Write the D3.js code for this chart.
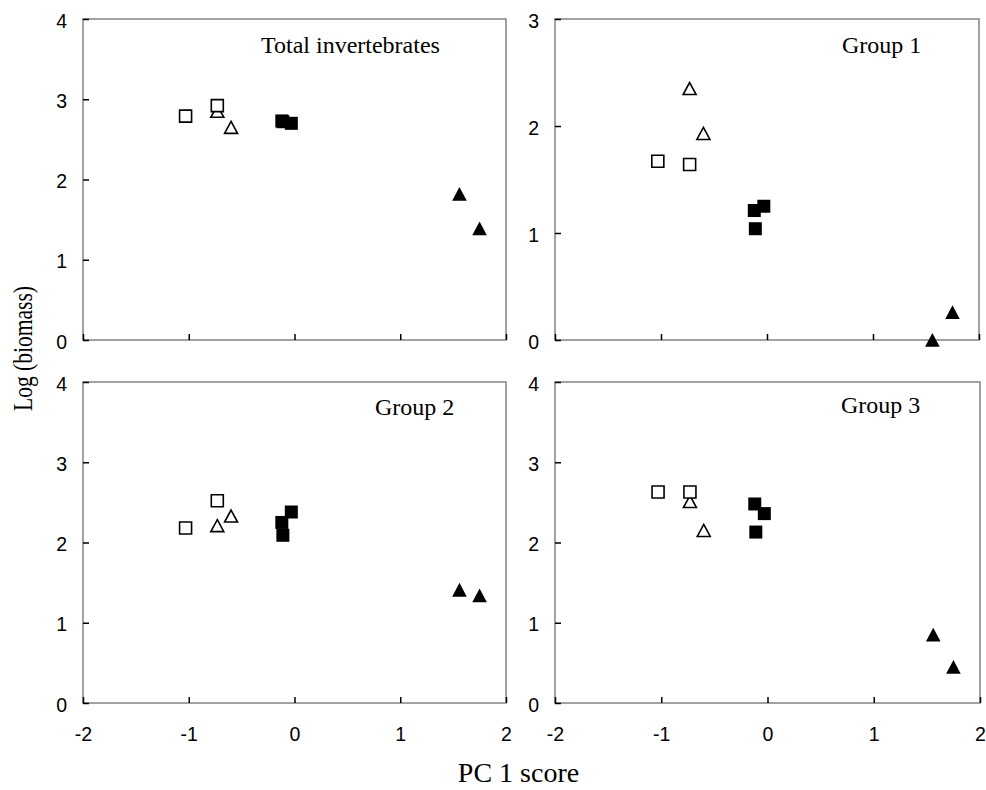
<!DOCTYPE html>
<html>
<head>
<meta charset="utf-8">
<script src="https://cdn.jsdelivr.net/npm/d3@7"></script>
<style>
  html, body { margin: 0; padding: 0; background: #fff; }
  svg { display: block; }
</style>
</head>
<body>
<svg id="chart" width="986" height="790"></svg>
<script>
// PC 1 scores, shared by every panel (triangles first so squares sit on top)
var pcScore = [-0.73, -0.60, -1.03, -0.73, -0.12, -0.03, -0.11, 1.56, 1.75]
var markerType = ["openTri", "openTri", "openSq", "openSq", "fillSq", "fillSq", "fillSq", "fillTri", "fillTri"]

// log(biomass) per panel, same order as pcScore
var totalInvertebrates = [2.85, 2.65, 2.79, 2.92, 2.73, 2.70, 2.72, 1.82, 1.39]
var group1 = [2.35, 1.93, 1.67, 1.64, 1.21, 1.25, 1.04, 0.00, 0.26]
var group2 = [2.21, 2.33, 2.18, 2.52, 2.25, 2.38, 2.09, 1.41, 1.34]
var group3 = [2.51, 2.15, 2.63, 2.63, 2.48, 2.36, 2.13, 0.85, 0.45]

var panelTitles = ["Total invertebrates", "Group 1", "Group 2", "Group 3"]
var panelYMax = [4, 3, 4, 4]
var xTicks = [-2, -1, 0, 1, 2]

var serif = "'Liberation Serif', 'Times New Roman', serif"
var sans = "'Liberation Sans', Arial, sans-serif"

// layout: left, top, right, bottom of each plot box, title offset
var panels = [
  { l: 83, t: 19, r: 506, b: 340, tx: 178, ty: 34, values: totalInvertebrates, labels: false },
  { l: 555, t: 19, r: 979, b: 340, tx: 287, ty: 34, values: group1, labels: false },
  { l: 83, t: 382, r: 506, b: 703, tx: 292, ty: 33, values: group2, labels: true },
  { l: 555, t: 382, r: 980, b: 703, tx: 286, ty: 31, values: group3, labels: true }
]

var svg = d3.select("#chart")

function symbolPath(type) {
  if (type == "openSq") return "M-6,-6H6V6H-6Z"
  if (type == "fillSq") return "M-6.5,-6.5H6.5V6.5H-6.5Z"
  if (type == "openTri") return "M0,-6L6.5,6H-6.5Z"
  return "M0,-7L7.3,6.8H-7.3Z"
}

panels.forEach(function (p, k) {
  var xScale = d3.scaleLinear().domain([-2, 2]).range([p.l, p.r])
  var yScale = d3.scaleLinear().domain([0, panelYMax[k]]).range([p.b, p.t])

  var g = svg.append("g")

  // plot box
  g.append("rect")
    .attr("x", p.l).attr("y", p.t)
    .attr("width", p.r - p.l).attr("height", p.b - p.t)
    .attr("fill", "none")
    .attr("stroke", "#8a8a8a")
    .attr("stroke-width", 1.6)

  var xAxis = d3.axisBottom(xScale)
    .tickValues(xTicks)
    .tickSizeInner(-6)
    .tickSizeOuter(0)
    .tickPadding(24)
    .tickFormat(p.labels ? d3.format("d") : function () { return "" })

  var gx = g.append("g")
    .attr("transform", "translate(0," + p.b + ")")
    .call(xAxis)
  gx.select(".domain").remove()
  gx.selectAll(".tick line").attr("stroke", "#000").attr("stroke-width", 1.5)
  gx.selectAll(".tick text")
    .attr("font-family", sans)
    .attr("font-size", 19.5)
    .attr("fill", "#000")
    .text(function (d) { return p.labels ? String(d) : "" })

  var yAxis = d3.axisLeft(yScale)
    .tickValues(d3.range(0, panelYMax[k] + 1))
    .tickSizeInner(-6)
    .tickSizeOuter(0)
    .tickPadding(16)
    .tickFormat(d3.format("d"))

  var gy = g.append("g")
    .attr("transform", "translate(" + p.l + ",0)")
    .call(yAxis)
  gy.select(".domain").remove()
  gy.selectAll(".tick line").attr("stroke", "#000").attr("stroke-width", 1.5)
  gy.selectAll(".tick text")
    .attr("font-family", sans)
    .attr("font-size", 19.5)
    .attr("fill", "#000")
    .attr("dy", "0.42em")

  // title
  g.append("text")
    .attr("x", p.l + p.tx)
    .attr("y", p.t + p.ty)
    .attr("font-family", serif)
    .attr("font-size", 24)
    .attr("fill", "#000")
    .text(panelTitles[k])

  // points
  var pts = pcScore.map(function (x, i) {
    return { x: x, y: p.values[i], type: markerType[i] }
  })

  g.selectAll(".pt").data(pts).enter().append("path")
    .attr("class", "pt")
    .attr("transform", function (d) {
      return "translate(" + xScale(d.x) + "," + yScale(d.y) + ")"
    })
    .attr("d", function (d) { return symbolPath(d.type) })
    .attr("fill", function (d) {
      return d.type.indexOf("open") == 0 ? "#fff" : "#000"
    })
    .attr("stroke", function (d) {
      return d.type.indexOf("open") == 0 ? "#000" : "none"
    })
    .attr("stroke-width", 1.6)
})

// shared axis titles
svg.append("text")
  .attr("transform", "translate(32,348.5) rotate(-90)")
  .attr("text-anchor", "middle")
  .attr("font-family", serif)
  .attr("font-size", 27)
  .attr("textLength", 125)
  .attr("lengthAdjust", "spacingAndGlyphs")
  .attr("fill", "#000")
  .text("Log (biomass)")

svg.append("text")
  .attr("x", 518.5)
  .attr("y", 782)
  .attr("text-anchor", "middle")
  .attr("font-family", serif)
  .attr("font-size", 28)
  .attr("fill", "#000")
  .text("PC 1 score")
</script>
</body>
</html>
